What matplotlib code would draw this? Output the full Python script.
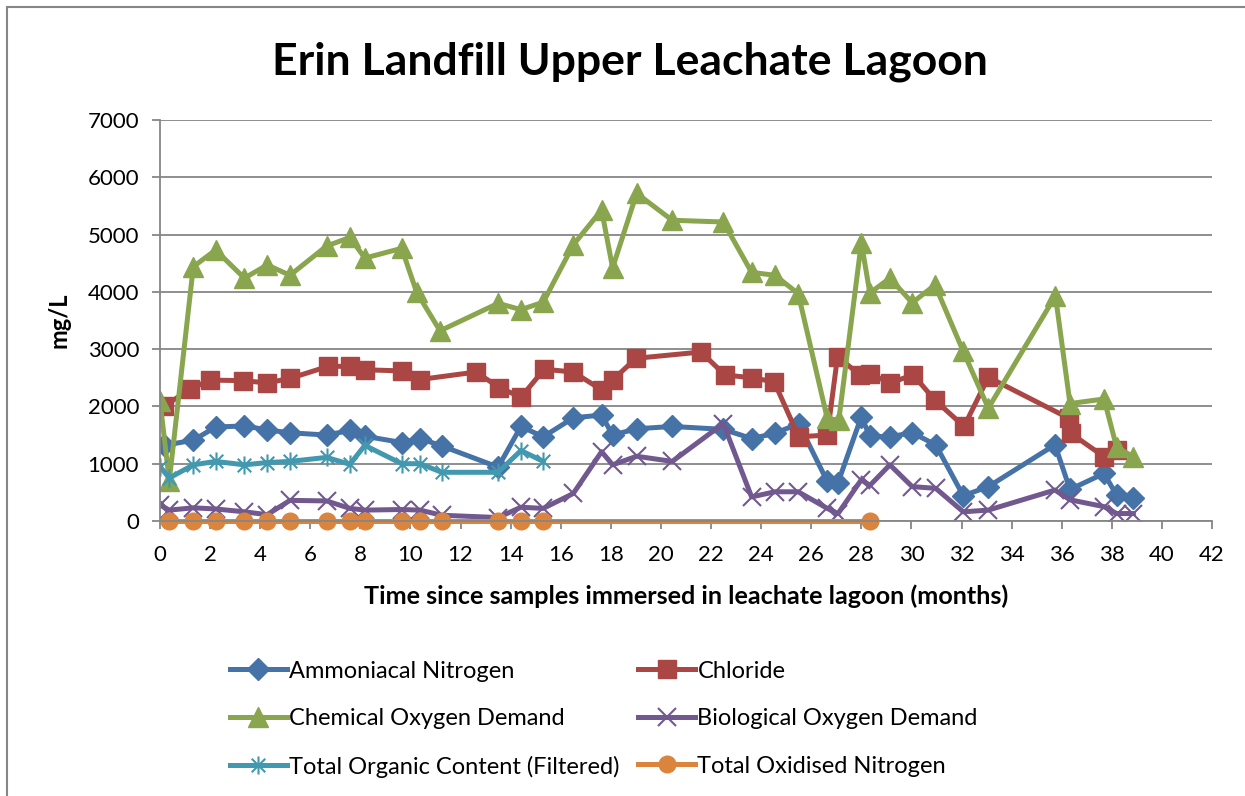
import numpy as np
import matplotlib.pyplot as plt
from matplotlib.path import Path
from matplotlib.patches import Rectangle

plt.rcParams['font.family'] = ['Lato', 'DejaVu Sans']

# months since immersion and mg/L values
nh3_t = [0.15, 1.33, 2.22, 3.37, 4.28, 5.19, 6.65, 7.58, 8.18, 9.65, 10.38, 11.25,
         13.5, 14.41, 15.3, 16.5, 17.63, 18.07, 19.03, 20.45, 22.49, 23.62, 24.55,
         25.5, 26.64, 27.07, 28.0, 28.34, 29.14, 30.03, 30.97, 32.07, 33.07, 35.73,
         36.33, 37.69, 38.19, 38.86]
nh3 = [1320, 1410, 1640, 1660, 1590, 1540, 1500, 1580, 1480, 1370, 1440, 1310,
       940, 1650, 1470, 1800, 1850, 1500, 1610, 1650, 1600, 1440, 1530,
       1700, 690, 670, 1820, 1480, 1470, 1540, 1330, 440, 600, 1330,
       550, 830, 450, 400]

cl_t = [0.15, 1.2, 2.0, 3.33, 4.28, 5.19, 6.72, 7.58, 8.18, 9.65, 10.38, 12.61,
        13.55, 14.41, 15.34, 16.5, 17.63, 18.07, 19.0, 21.6, 22.55, 23.62, 24.52,
        25.5, 26.64, 27.05, 27.94, 28.34, 29.14, 30.07, 30.94, 32.1, 33.07,
        36.3, 36.36, 37.7, 38.19]
cl = [2000, 2300, 2460, 2450, 2410, 2490, 2700, 2700, 2640, 2620, 2470, 2600,
      2330, 2160, 2650, 2600, 2290, 2460, 2840, 2950, 2550, 2500, 2430,
      1470, 1500, 2870, 2550, 2570, 2410, 2550, 2110, 1650, 2510,
      1790, 1530, 1120, 1240]

cod_t = [0.0, 0.37, 1.33, 2.22, 3.37, 4.28, 5.19, 6.65, 7.58, 8.18, 9.65, 10.25,
         11.18, 13.5, 14.41, 15.3, 16.5, 17.63, 18.07, 19.03, 20.45, 22.49, 23.62,
         24.55, 25.48, 26.64, 27.1, 28.0, 28.34, 29.14, 30.03, 30.94, 32.07, 33.07,
         35.75, 36.33, 37.69, 38.19, 38.86]
cod = [2100, 700, 4440, 4730, 4240, 4470, 4290, 4800, 4950, 4590, 4760, 3990,
       3320, 3800, 3690, 3820, 4820, 5430, 4420, 5720, 5250, 5220, 4340,
       4290, 3970, 1790, 1760, 4860, 3980, 4240, 3810, 4120, 2960, 1970,
       3930, 2050, 2130, 1290, 1120]

bod_t = [0.0, 0.37, 1.33, 2.22, 3.37, 4.28, 5.19, 6.65, 7.58, 8.18, 9.65, 10.38,
         11.25, 13.5, 14.41, 15.3, 16.5, 17.63, 18.07, 19.03, 20.45, 22.49, 23.62,
         24.55, 25.48, 26.64, 27.07, 28.0, 28.34, 29.14, 30.03, 30.97, 32.07, 33.07,
         35.73, 36.33, 37.69, 38.19, 38.86]
bod = [280, 190, 230, 210, 160, 110, 360, 350, 220, 190, 200, 190,
       100, 60, 240, 220, 480, 1210, 980, 1130, 1040, 1700, 420,
       510, 510, 220, 130, 720, 620, 980, 600, 570, 160, 190,
       540, 370, 250, 130, 130]

toc_t = [0.0, 0.37, 1.33, 2.22, 3.37, 4.28, 5.19, 6.65, 7.58, 8.18, 9.65, 10.38,
         11.25, 13.5, 14.41, 15.3]
toc = [950, 750, 980, 1040, 980, 1020, 1040, 1110, 990, 1320, 1000, 1000,
       850, 850, 1230, 1040]

ton_t = [0.37, 1.33, 2.22, 3.37, 4.28, 5.19, 6.65, 7.58, 8.18, 9.65, 10.38, 11.25,
         13.5, 14.41, 15.3, 28.34]
ton = [0] * len(ton_t)

names = ['Ammoniacal Nitrogen', 'Chloride', 'Chemical Oxygen Demand',
         'Biological Oxygen Demand', 'Total Organic Content (Filtered)',
         'Total Oxidised Nitrogen']

# asterisk marker like the Excel one: vertical bar plus an X
star = Path([(0, -1), (0, 1), (-0.75, -0.75), (0.75, 0.75), (-0.75, 0.75), (0.75, -0.75)],
            [Path.MOVETO, Path.LINETO] * 3)

fig = plt.figure(figsize=(12.45, 7.96), dpi=100)
ax = fig.add_axes([0.1285, 0.3455, 0.845, 0.5037])

lw = 3.6
h = []
h += ax.plot(nh3_t, nh3, color='#4572A7', lw=lw, marker='D', ms=11, label=names[0])
h += ax.plot(cl_t, cl, color='#AA4643', lw=lw, marker='s', ms=13, label=names[1])
h += ax.plot(cod_t, cod, color='#89A54E', lw=lw, marker='^', ms=14, label=names[2])
h += ax.plot(bod_t, bod, color='#71588F', lw=lw, marker='x', ms=13, mew=1.5, label=names[3])
h += ax.plot(toc_t, toc, color='#4198AF', lw=lw, marker=star, ms=13, mew=1.5, label=names[4])
h += ax.plot(ton_t, ton, color='#DB843D', lw=lw, marker='o', ms=12, label=names[5], clip_on=False)

ax.set_xlim(0, 42)
ax.set_ylim(0, 7000)
ax.set_xticks(np.arange(0, 43, 2))
ax.set_yticks(np.arange(0, 7001, 1000))
ax.grid(axis='y', color='#868686', lw=1.3)
ax.set_axisbelow(True)
for s in ['top', 'right']:
    ax.spines[s].set_visible(False)
for s in ['left', 'bottom']:
    ax.spines[s].set_color('#868686')
    ax.spines[s].set_linewidth(1.3)
ax.tick_params(axis='both', labelsize=16, color='#868686', length=6, width=1.3)
ax.tick_params(axis='x', pad=11)
ax.tick_params(axis='y', pad=9)

ax.set_xlabel('Time since samples immersed in leachate lagoon (months)',
              fontsize=18.2, fontweight='bold', labelpad=14)
ax.set_ylabel('mg/L', fontsize=17, fontweight='bold', labelpad=12)
fig.text(0.506, 0.922, 'Erin Landfill Upper Leachate Lagoon', fontsize=32,
         fontweight='bold', ha='center', va='center')

# legend reads row by row in the reference
order = [0, 2, 4, 1, 3, 5]
leg = fig.legend([h[i] for i in order], [names[i] for i in order],
                 loc='upper left', bbox_to_anchor=(0.1847, 0.17), ncol=2,
                 frameon=False, fontsize=17, handlelength=2.4, handletextpad=0.1,
                 columnspacing=0.8, labelspacing=1.12, borderaxespad=0, borderpad=0)

fig.patches.append(Rectangle((0.0056, -0.1), 1.2, 1.0912, transform=fig.transFigure,
                             fill=False, edgecolor='#868686', lw=1.5))

fig.savefig('out.png', dpi=100)
